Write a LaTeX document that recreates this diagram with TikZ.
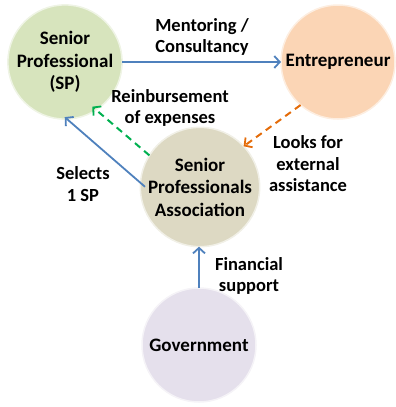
\documentclass[tikz,border=0pt]{standalone}
\usepackage{fontspec}
\setmainfont{Carlito}
\usetikzlibrary{arrows.meta}
\definecolor{spgreen}{RGB}{215,228,189}
\definecolor{entpeach}{RGB}{251,213,181}
\definecolor{assockhaki}{RGB}{221,217,195}
\definecolor{govlilac}{RGB}{229,224,236}
\definecolor{linkblue}{RGB}{79,129,189}
\definecolor{linkorange}{RGB}{228,108,10}
\definecolor{linkgreen}{RGB}{0,176,80}
\tikzset{
  actor/.style = {circle, align=center, inner sep=0pt, outer sep=0pt,
    minimum size=114pt, font=\fontsize{19}{22.5}\selectfont\bfseries,
    line width=1.5pt},
  act_sp/.style = {actor, fill=spgreen, draw=spgreen!40!white},% senior professional
  act_en/.style = {actor, fill=entpeach, draw=entpeach!40!white},% entrepreneur
  act_as/.style = {actor, fill=assockhaki, draw=assockhaki!40!white},% association
  act_go/.style = {actor, fill=govlilac, draw=govlilac!40!white},% government
  flowlbl/.style = {align=center, inner sep=0pt,
    font=\fontsize{18.5}{21.5}\selectfont\bfseries},
  flow/.style = {line width=1.8pt, -{Straight Barb[length=5.5pt,width=12pt,line width=1.8pt]}},
  flowdash/.style = {flow, line width=2pt, dash pattern=on 7pt off 5pt}
}
\begin{document}
\begin{tikzpicture}[x=1pt,y=-1pt]
\useasboundingbox (0,0) rectangle (396,407);
% the four actors
\node [act_sp] (sp) at (65,62) {Senior\\Professional\\(SP)};
\node [act_en] (ent) at (338,62) {Entrepreneur};
\node [act_as] (spa) at (200,187) {Senior\\Professionals\\Association};
\node [act_go] (gov) at (199,345) {Government};
% the relations
\draw [flow, linkblue] (sp) -- (ent);
\draw [flowdash, linkorange] (ent.229) -- (spa.43);
\draw [flowdash, linkgreen] (spa.148) -- (sp.303) [shorten >=-5pt];
\draw [flow, linkblue, shorten <=-6pt, shorten >=-3pt] (spa.176) -- (sp.272);
\draw [flow, linkblue] (gov.north) -- (gov.north |- spa.south);
% their labels
\node [flowlbl] (lmentor) at (202,37) {Mentoring /\\Consultancy};
\node [flowlbl] (lreimb) at (170,108) {Reinbursement\\of expenses};
\node [flowlbl] (llooks) at (308,164) {Looks for\\external\\assistance};
\node [flowlbl] (lselect) at (83,184) {Selects\\1 SP};
\node [flowlbl] (lfinance) at (249,276) {Financial\\support};
\end{tikzpicture}
\end{document}
